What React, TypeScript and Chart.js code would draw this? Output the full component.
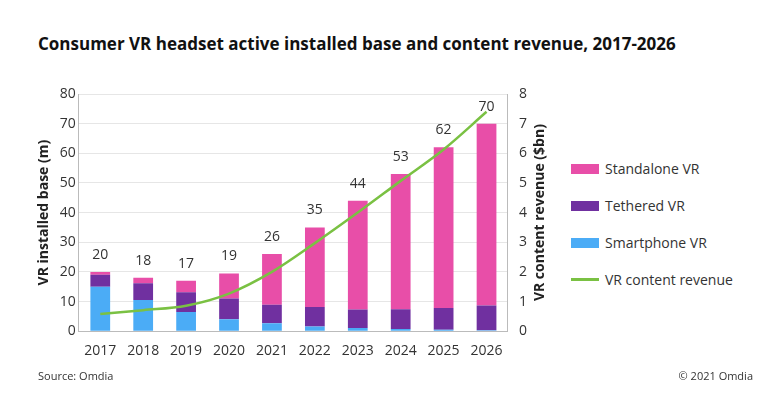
import React, { useEffect, useRef } from "react";
import { Chart, registerables } from "chart.js";
Chart.register(...registerables);

const years = ["2017","2018","2019","2020","2021","2022","2023","2024","2025","2026"];
const smartphone = [15, 10.5, 6.5, 4, 2.7, 1.6, 1.1, 0.7, 0.5, 0.3];
const tethered = [4, 5.7, 6.6, 7, 6.2, 6.6, 6.2, 6.7, 7.3, 8.4];
const standalone = [1, 1.8, 3.9, 8.5, 17.1, 26.8, 36.7, 45.6, 54.2, 61.3];
const totals = [20, 18, 17, 19, 26, 35, 44, 53, 62, 70];
const revenue = [0.58, 0.71, 0.86, 1.27, 2.0, 2.97, 4.0, 5.07, 6.13, 7.4];

const FONT = "'Open Sans', sans-serif";
const C_SA = "#e84ea8", C_T = "#7030a0", C_S = "#4bacf6", C_L = "#7ac143";

export default function App() {
  const ref = useRef<HTMLCanvasElement>(null);
  useEffect(() => {
    const totalsPlugin = {
      id: "totals",
      afterDatasetsDraw(chart: any) {
        const ctx = chart.ctx;
        const meta = chart.getDatasetMeta(3);
        ctx.save();
        ctx.font = `14px ${FONT}`;
        ctx.fillStyle = "#333";
        ctx.textAlign = "center";
        ctx.textBaseline = "bottom";
        meta.data.forEach((b: any, i: number) => {
          ctx.fillText(String(totals[i]), b.x, b.y - 10);
        });
        const r = chart.scales.y1;
        ctx.translate(r.right + 10, (chart.chartArea.top + chart.chartArea.bottom) / 2);
        ctx.rotate(-Math.PI / 2);
        ctx.font = `bold 14px ${FONT}`;
        ctx.fillStyle = "#222";
        ctx.textBaseline = "middle";
        ctx.fillText("VR content revenue ($bn)", 0, 0);
        ctx.restore();
      },
    };
    const chart = new Chart(ref.current!, {
      type: "bar",
      data: {
        labels: years,
        datasets: [
          { type: "line", label: "VR content revenue", data: revenue, yAxisID: "y1", borderColor: C_L, borderWidth: 2.5, pointRadius: 0, cubicInterpolationMode: "monotone", order: 0 },
          { label: "Smartphone VR", data: smartphone, backgroundColor: C_S, stack: "s", barPercentage: 0.46, categoryPercentage: 1, order: 1 },
          { label: "Tethered VR", data: tethered, backgroundColor: C_T, stack: "s", barPercentage: 0.46, categoryPercentage: 1, order: 1 },
          { label: "Standalone VR", data: standalone, backgroundColor: C_SA, stack: "s", barPercentage: 0.46, categoryPercentage: 1, order: 1 },
        ] as any,
      },
      options: {
        animation: false,
        responsive: false,
        layout: { padding: { top: 94, bottom: 44, left: 32, right: 40 } },
        plugins: { legend: { display: false }, tooltip: { enabled: false } },
        scales: {
          x: {
            stacked: true,
            grid: { display: false },
            border: { color: "#bbb" },
            ticks: { color: "#333", font: { family: FONT, size: 14 } },
          },
          y: {
            stacked: true, min: 0, max: 80,
            ticks: { stepSize: 10, color: "#333", font: { family: FONT, size: 14 } },
            grid: { color: "#e6e6e6", drawTicks: false },
            border: { display: true, color: "#bbb" },
            title: { display: true, text: "VR installed base (m)", color: "#222", font: { family: FONT, size: 14, weight: "bold" } },
          },
          y1: {
            position: "right", min: 0, max: 8,
            ticks: { stepSize: 1, color: "#333", font: { family: FONT, size: 14 } },
            grid: { display: false },
            border: { color: "#bbb" },
          },
        },
      },
      plugins: [totalsPlugin],
    });
    return () => chart.destroy();
  }, []);

  const item = (color: string, label: string, line = false) => (
    <div style={{ display: "flex", alignItems: "center", height: 37 }}>
      <div style={{ width: 28, height: line ? 3 : 10, background: color, marginRight: 6 }} />
      <span>{label}</span>
    </div>
  );

  return (
    <div style={{ position: "absolute", left: 0, top: 0, width: 779, height: 406, background: "#fff", fontFamily: FONT, color: "#333" }}>
      <div style={{ position: "absolute", left: 38, top: 32, fontSize: 17, fontWeight: "bold", color: "#111" }}>
        Consumer VR headset active installed base and content revenue, 2017-2026
      </div>
      <canvas ref={ref} width={570} height={406} style={{ position: "absolute", left: 0, top: 0 }} />
      <div style={{ position: "absolute", left: 571, top: 150, fontSize: 14 }}>
        {item(C_SA, "Standalone VR")}
        {item(C_T, "Tethered VR")}
        {item(C_S, "Smartphone VR")}
        {item(C_L, "VR content revenue", true)}
      </div>
      <div style={{ position: "absolute", left: 38, top: 368, fontSize: 11 }}>Source: Omdia</div>
      <div style={{ position: "absolute", right: 26, top: 368, fontSize: 11 }}>© 2021 Omdia</div>
    </div>
  );
}
